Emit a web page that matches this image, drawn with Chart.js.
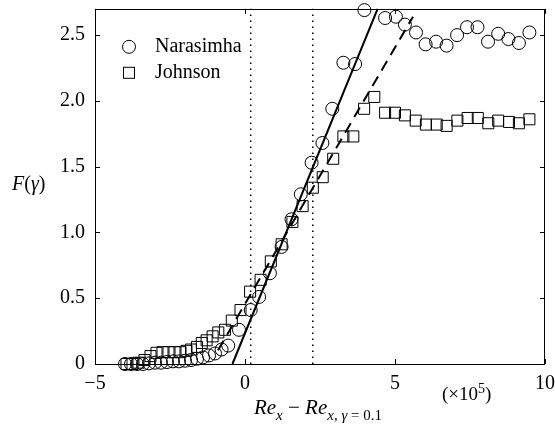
<!DOCTYPE html>
<html>
<head>
<meta charset="utf-8">
<script src="https://cdn.jsdelivr.net/npm/chart.js@4"></script>
<style>
  html, body { margin: 0; padding: 0; background: #fff; }
  #wrap { width: 555px; height: 428px; }
</style>
</head>
<body>
<div id="wrap"><canvas id="chart"></canvas></div>
<script>
// ---- data ----
const narX = [-4.0, -3.8, -3.6, -3.4, -3.2, -3.0, -2.8, -2.6, -2.4, -2.2, -2.0, -1.8, -1.6,
  -1.4, -1.2, -1.0, -0.78, -0.56, -0.2, 0.19, 0.47, 0.83, 1.22, 1.55, 1.86, 2.22, 2.58,
  2.91, 3.28, 3.67, 3.98, 4.67, 5.03, 5.33, 5.7, 6.02, 6.37, 6.72, 7.07, 7.4, 7.75, 8.1,
  8.44, 8.78, 9.13, 9.48];
const narY = [0.0, 0.0, 0.0, 0.0, 0.005, 0.01, 0.01, 0.015, 0.02, 0.02, 0.025, 0.03, 0.04,
  0.05, 0.065, 0.08, 0.11, 0.14, 0.26, 0.41, 0.51, 0.69, 0.89, 1.10, 1.29, 1.53, 1.68,
  1.94, 2.29, 2.28, 2.69, 2.63, 2.64, 2.58, 2.52, 2.43, 2.45, 2.42, 2.50, 2.56, 2.56, 2.45,
  2.51, 2.47, 2.44, 2.52];

const johX = [-3.95, -3.75, -3.55, -3.35, -3.15, -2.95, -2.75, -2.55, -2.35, -2.15, -1.95,
  -1.8, -1.6, -1.44, -1.28, -1.08, -0.89, -0.67, -0.44, -0.15, 0.17, 0.52, 0.86, 1.22,
  1.58, 1.92, 2.26, 2.59, 2.94, 3.28, 3.61, 3.97, 4.31, 4.67, 5.0, 5.33, 5.69, 6.03, 6.39,
  6.72, 7.08, 7.42, 7.76, 8.11, 8.44, 8.8, 9.13, 9.48];
const johY = [0.0, 0.0, 0.01, 0.03, 0.06, 0.085, 0.09, 0.09, 0.09, 0.09, 0.10,
  0.11, 0.13, 0.16, 0.18, 0.21, 0.24, 0.26, 0.33, 0.41, 0.55, 0.64, 0.78, 0.91,
  1.08, 1.20, 1.34, 1.42, 1.56, 1.73, 1.73, 1.94, 2.03, 1.91, 1.91, 1.89, 1.85, 1.82, 1.82,
  1.81, 1.85, 1.87, 1.87, 1.83, 1.85, 1.84, 1.83, 1.86];

// fitted lines and marker lines
const solidX = [-0.42, 4.42];
const solidY = [0, 2.7];
const dashX = [-0.9, 5.6];
const dashY = [0.105, 2.64];
const dotAX = [0.19, 0.19];
const dotBX = [2.26, 2.26];
const dotY = [0, 2.7];

const xTicks = [-5, 0, 5, 10];
const yTicks = [0, 0.5, 1.0, 1.5, 2.0, 2.5];

const pts = (xs, ys) => xs.map((x, i) => ({ x: x, y: ys[i] }));

const SERIF = '"Liberation Serif", "DejaVu Serif", serif';

// draws frame, inward ticks, legend and the axis titles
const decor = {
  id: 'decor',
  afterDraw(chart) {
    const ctx = chart.ctx;
    const a = chart.chartArea;
    const sx = chart.scales.x, sy = chart.scales.y;
    ctx.save();
    ctx.strokeStyle = '#000';
    ctx.lineWidth = 1;
    ctx.strokeRect(Math.round(a.left) + 0.5, Math.round(a.top) + 0.5,
      Math.round(a.right - a.left) - 1, Math.round(a.bottom - a.top));

    ctx.beginPath();
    xTicks.forEach(v => {
      const px = Math.round(sx.getPixelForValue(v)) + 0.5;
      ctx.moveTo(px, a.bottom); ctx.lineTo(px, a.bottom - 5);
      ctx.moveTo(px, a.top); ctx.lineTo(px, a.top + 5);
    });
    yTicks.forEach(v => {
      const py = Math.round(sy.getPixelForValue(v)) + 0.5;
      ctx.moveTo(a.left, py); ctx.lineTo(a.left + 5, py);
      ctx.moveTo(a.right, py); ctx.lineTo(a.right - 5, py);
    });
    ctx.stroke();

    // legend
    const lx = a.left + 34, ly1 = a.top + 38, ly2 = a.top + 64;
    ctx.beginPath();
    ctx.arc(lx, ly1, 6.5, 0, Math.PI * 2);
    ctx.stroke();
    ctx.strokeRect(lx - 5.5, ly2 - 5.5, 11, 11);
    ctx.fillStyle = '#000';
    ctx.font = '20px ' + SERIF;
    ctx.textBaseline = 'middle';
    ctx.textAlign = 'left';
    ctx.fillText('Narasimha', lx + 26, ly1);
    ctx.fillText('Johnson', lx + 26, ly2);

    // y title F(γ)
    ctx.textBaseline = 'alphabetic';
    let x = 12;
    const yb = 190;
    const piece = (t, font, dy) => {
      ctx.font = font;
      ctx.fillText(t, x, yb + (dy || 0));
      x += ctx.measureText(t).width;
    };
    piece('F', 'italic 20px ' + SERIF);
    piece('(', '20px ' + SERIF);
    piece('γ', 'italic 20px ' + SERIF);
    piece(')', '20px ' + SERIF);

    // x title Re_x − Re_{x, γ = 0.1}
    const big = 'italic 21px ' + SERIF, reg = '21px ' + SERIF;
    const sub = 'italic 15px ' + SERIF, subr = '15px ' + SERIF;
    const parts = [['Re', big, 0], ['x', sub, 6], [' − ', reg, 0], ['Re', big, 0],
      ['x', sub, 6], [', ', subr, 6], ['γ', sub, 6], [' = 0.1', subr, 6]];
    let w = 0;
    parts.forEach(p => { ctx.font = p[1]; w += ctx.measureText(p[0]).width; });
    let tx = 318 - w / 2;
    parts.forEach(p => {
      ctx.font = p[1];
      ctx.fillText(p[0], tx, 414 + p[2]);
      tx += ctx.measureText(p[0]).width;
    });

    // (×10^5)
    let ex = 442;
    const eb = 400;
    ctx.font = '19px ' + SERIF;
    ctx.fillText('(×10', ex, eb); ex += ctx.measureText('(×10').width;
    ctx.font = '14px ' + SERIF;
    ctx.fillText('5', ex, eb - 7); ex += ctx.measureText('5').width;
    ctx.font = '19px ' + SERIF;
    ctx.fillText(')', ex, eb);
    ctx.restore();
  }
};

const lineDs = (xs, ys, dash, width) => ({
  type: 'line',
  data: pts(xs, ys),
  borderColor: '#000',
  borderWidth: width,
  borderDash: dash,
  pointRadius: 0,
  fill: false,
  clip: false
});

new Chart(document.getElementById('chart'), {
  type: 'scatter',
  data: {
    datasets: [
      lineDs(solidX, solidY, [], 2),
      lineDs(dashX, dashY, [11, 7], 2),
      lineDs(dotAX, dotY, [1.5, 4.5], 1.5),
      lineDs(dotBX, dotY, [1.5, 4.5], 1.5),
      {
        label: 'Narasimha',
        data: pts(narX, narY),
        pointStyle: 'circle',
        pointRadius: 6.5,
        borderColor: '#000',
        backgroundColor: 'rgba(0,0,0,0)',
        borderWidth: 1,
        clip: false
      },
      {
        label: 'Johnson',
        data: pts(johX, johY),
        pointStyle: 'rect',
        pointRadius: 7.8,
        borderColor: '#000',
        backgroundColor: 'rgba(0,0,0,0)',
        borderWidth: 1,
        clip: false
      }
    ]
  },
  options: {
    responsive: true,
    maintainAspectRatio: false,
    animation: false,
    layout: { padding: { left: 0, right: 10, top: 7, bottom: 0 } },
    plugins: { legend: { display: false }, tooltip: { enabled: false } },
    scales: {
      x: {
        type: 'linear',
        min: -5, max: 10,
        grid: { display: false, drawTicks: false },
        border: { display: false },
        afterFit: s => { s.height = 64; s.paddingLeft = 0; s.paddingRight = 0; },
        afterBuildTicks: s => { s.ticks = xTicks.map(v => ({ value: v })); },
        ticks: {
          color: '#000',
          padding: 8,
          font: { family: SERIF, size: 20 },
          callback: v => (v < 0 ? '−' + Math.abs(v) : String(v))
        }
      },
      y: {
        type: 'linear',
        min: 0, max: 2.7,
        grid: { display: false, drawTicks: false },
        border: { display: false },
        afterFit: s => { s.width = 95; s.paddingTop = 0; s.paddingBottom = 0; },
        afterBuildTicks: s => { s.ticks = yTicks.map(v => ({ value: v })); },
        ticks: {
          color: '#000',
          padding: 10,
          font: { family: SERIF, size: 20 },
          callback: v => (v === 0 ? '0' : v.toFixed(1))
        }
      }
    }
  },
  plugins: [decor]
});
</script>
</body>
</html>
